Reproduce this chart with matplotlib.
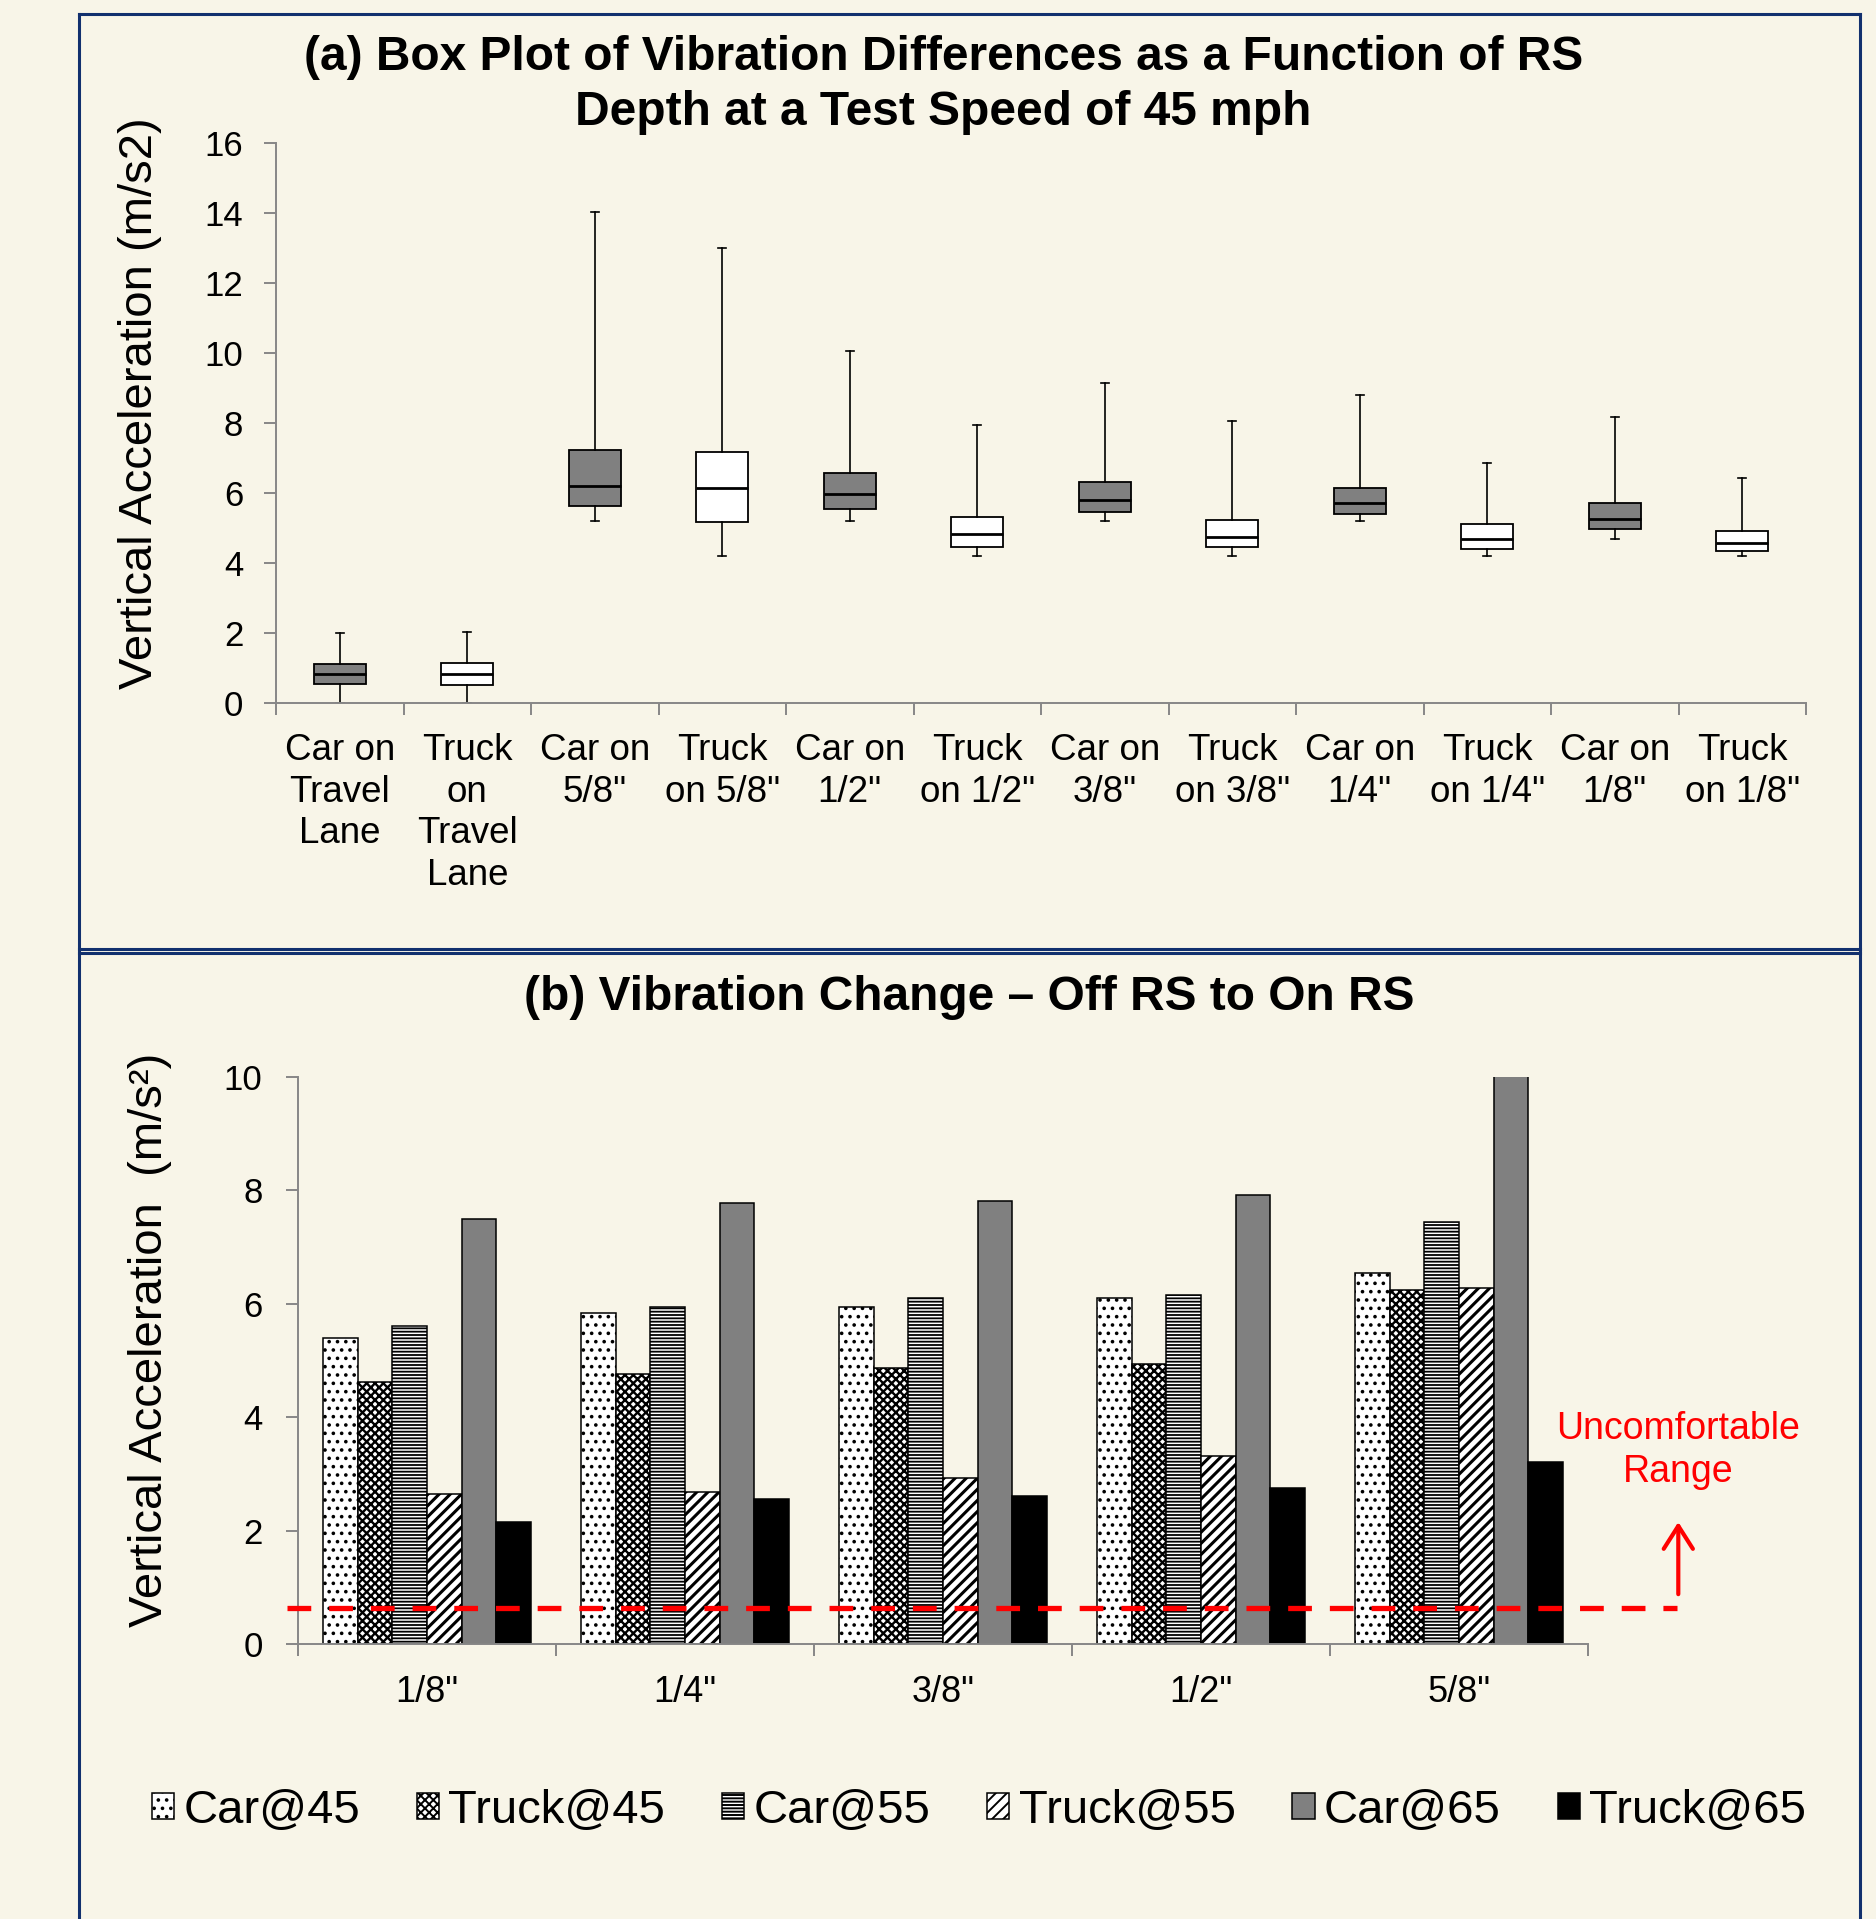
import matplotlib
matplotlib.use("Agg")
import matplotlib.pyplot as plt
from matplotlib.lines import Line2D

plt.rcParams['font.family'] = ['Liberation Sans', 'DejaVu Sans']
plt.rcParams['hatch.linewidth'] = 1.4

# Datos del grafico (a): box plot
box_labels = ['Car on\nTravel\nLane', 'Truck\non\nTravel\nLane', 'Car on\n5/8"', 'Truck\non 5/8"',
              'Car on\n1/2"', 'Truck\non 1/2"', 'Car on\n3/8"', 'Truck\non 3/8"',
              'Car on\n1/4"', 'Truck\non 1/4"', 'Car on\n1/8"', 'Truck\non 1/8"']
whis_low = [0.0, 0.0, 5.2, 4.19, 5.2, 4.19, 5.2, 4.19, 5.2, 4.19, 4.68, 4.19]
q1 = [0.54, 0.52, 5.64, 5.17, 5.55, 4.45, 5.47, 4.45, 5.41, 4.40, 4.96, 4.33]
median = [0.82, 0.84, 6.20, 6.14, 5.97, 4.83, 5.80, 4.73, 5.72, 4.69, 5.26, 4.57]
q3 = [1.12, 1.14, 7.23, 7.18, 6.58, 5.32, 6.32, 5.22, 6.15, 5.10, 5.70, 4.90]
whis_high = [1.99, 2.02, 14.04, 13.0, 10.06, 7.93, 9.13, 8.07, 8.80, 6.85, 8.18, 6.42]
box_colors = ['#808080', 'white'] * 6

# Datos del grafico (b): barras agrupadas
depths = ['1/8"', '1/4"', '3/8"', '1/2"', '5/8"']
series_names = ['Car@45', 'Truck@45', 'Car@55', 'Truck@55', 'Car@65', 'Truck@65']
car45 = [5.40, 5.83, 5.94, 6.10, 6.55]
truck45 = [4.62, 4.76, 4.86, 4.93, 6.24]
car55 = [5.60, 5.95, 6.11, 6.16, 7.45]
truck55 = [2.65, 2.68, 2.92, 3.32, 6.27]
car65 = [7.50, 7.77, 7.82, 7.92, 10.9]
truck65 = [2.16, 2.56, 2.61, 2.75, 3.21]
series_values = [car45, truck45, car55, truck55, car65, truck65]
threshold = 0.63

bg = '#F8F5E8'
spine_gray = '#878787'
navy = '#12306E'
W, H = 1876, 1919

fig = plt.figure(figsize=(W / 100, H / 100), dpi=100, facecolor=bg)


def fx(x):
    return x / W


def fy(y):
    return 1 - y / H


# Marcos de los paneles
for xs, ys in [([79, 79], [14, H]), ([79, 1860], [14, 14]), ([1860, 1860], [14, H]),
               ([79, 1860], [949, 949]), ([79, 1860], [953, 953])]:
    fig.add_artist(Line2D([fx(v) for v in xs], [fy(v) for v in ys], color=navy, lw=2.2))


def style_axes(ax):
    ax.set_facecolor(bg)
    for s in ['top', 'right']:
        ax.spines[s].set_visible(False)
    for s in ['left', 'bottom']:
        ax.spines[s].set_color(spine_gray)
        ax.spines[s].set_linewidth(1.4)
    ax.tick_params(axis='both', which='major', color=spine_gray, width=1.4, length=8.5,
                   labelsize=25)
    ax.tick_params(axis='x', which='minor', length=0, labelsize=26.5)


# ---------- (a) Box plot ----------
ax1 = fig.add_axes([fx(276), fy(703), fx(1806) - fx(276), fy(143) - fy(703)])
style_axes(ax1)
stats = []
for i in range(len(box_labels)):
    stats.append(dict(whislo=whis_low[i], q1=q1[i], med=median[i], q3=q3[i],
                      whishi=whis_high[i], fliers=[]))
positions = list(range(1, len(box_labels) + 1))
bp = ax1.bxp(stats, positions=positions, widths=0.41, patch_artist=True, showfliers=False,
             boxprops=dict(edgecolor='black', linewidth=1.3),
             medianprops=dict(color='black', linewidth=2.0),
             whiskerprops=dict(color='black', linewidth=1.2),
             capprops=dict(color='black', linewidth=1.2),
             capwidths=0.065, manage_ticks=False)
for patch, c in zip(bp['boxes'], box_colors):
    patch.set_facecolor(c)

ax1.set_xlim(0.5, len(box_labels) + 0.5)
ax1.set_ylim(0, 16)
ax1.set_yticks(range(0, 17, 2))
ax1.set_xticks([p - 0.5 for p in positions] + [len(box_labels) + 0.5])
ax1.set_xticklabels([])
ax1.set_xticks(positions, minor=True)
ax1.set_xticklabels(box_labels, minor=True, va='top', linespacing=1.25)
ax1.tick_params(axis='y', pad=15)
ax1.tick_params(axis='x', which='minor', pad=21.5)
ax1.set_ylabel('Vertical Acceleration (m/s2)', fontsize=34, va='center')
ax1.yaxis.set_label_coords(fx(140), fy(403), transform=fig.transFigure)

fig.text(0.503, fy(85), '(a) Box Plot of Vibration Differences as a Function of RS\n'
         'Depth at a Test Speed of 45 mph', ha='center', va='center',
         fontsize=34.5, fontweight='bold', linespacing=1.28)

# ---------- (b) Barras ----------
ax2 = fig.add_axes([fx(298), fy(1644), fx(1588) - fx(298), fy(1077) - fy(1644)])
style_axes(ax2)
hatches = ['..', 'xxxx', '-----', '///', None, None]
hatch_lw = [1.4, 1.7, 1.3, 2.2, 1.0, 1.0]
faces = ['white', 'white', 'white', 'white', '#808080', 'black']
bar_w = 0.134
x = list(range(len(depths)))
for j, (name, vals) in enumerate(zip(series_names, series_values)):
    xs = [i + (j - 2.5) * bar_w for i in x]
    with plt.rc_context({'hatch.linewidth': hatch_lw[j]}):
        ax2.bar(xs, vals, width=bar_w, color=faces[j], edgecolor='black', linewidth=1.1,
                hatch=hatches[j], label=name, zorder=2)

ax2.set_xlim(-0.5, len(depths) - 0.5)
ax2.set_ylim(0, 10)
ax2.set_yticks(range(0, 11, 2))
ax2.set_xticks([i - 0.5 for i in x] + [len(depths) - 0.5])
ax2.set_xticklabels([])
ax2.set_xticks(x, minor=True)
ax2.set_xticklabels(depths, minor=True)
ax2.tick_params(axis='y', pad=17)
ax2.tick_params(axis='x', which='minor', pad=22, labelsize=26)
ax2.set_ylabel('Vertical Acceleration  (m/s\u00b2)', fontsize=34, va='center')
ax2.yaxis.set_label_coords(fx(150), fy(1340), transform=fig.transFigure)

# Linea de umbral y flecha
tr = ax2.get_yaxis_transform()
ax2.plot([-0.0085, 1.069], [threshold, threshold], transform=tr, color='red', lw=3.8,
         linestyle=(0, (4.5, 3.4)), clip_on=False, zorder=5)
ax2.annotate('', xy=(1.07, 2.2), xytext=(1.07, 0.83), xycoords=tr, textcoords=tr,
             arrowprops=dict(arrowstyle='->, head_length=0.55, head_width=0.35',
                             color='red', lw=3.0, mutation_scale=30), annotation_clip=False)
ax2.text(1.07, 3.42, 'Uncomfortable\nRange', transform=tr, color='red', fontsize=27,
         ha='center', va='center', linespacing=1.25)

fig.text(fx(969), fy(997), '(b) Vibration Change \u2013 Off RS to On RS', ha='center',
         va='center', fontsize=34.5, fontweight='bold')

# Leyenda
handles, labels = ax2.get_legend_handles_labels()
fig.legend(handles, labels, loc='center', bbox_to_anchor=(fx(979), fy(1811)), ncol=6,
           frameon=False, fontsize=34, handlelength=0.47, handleheight=0.47,
           handletextpad=0.2, columnspacing=1.2, borderpad=0)

fig.savefig('out.png', dpi=100, facecolor=bg)
